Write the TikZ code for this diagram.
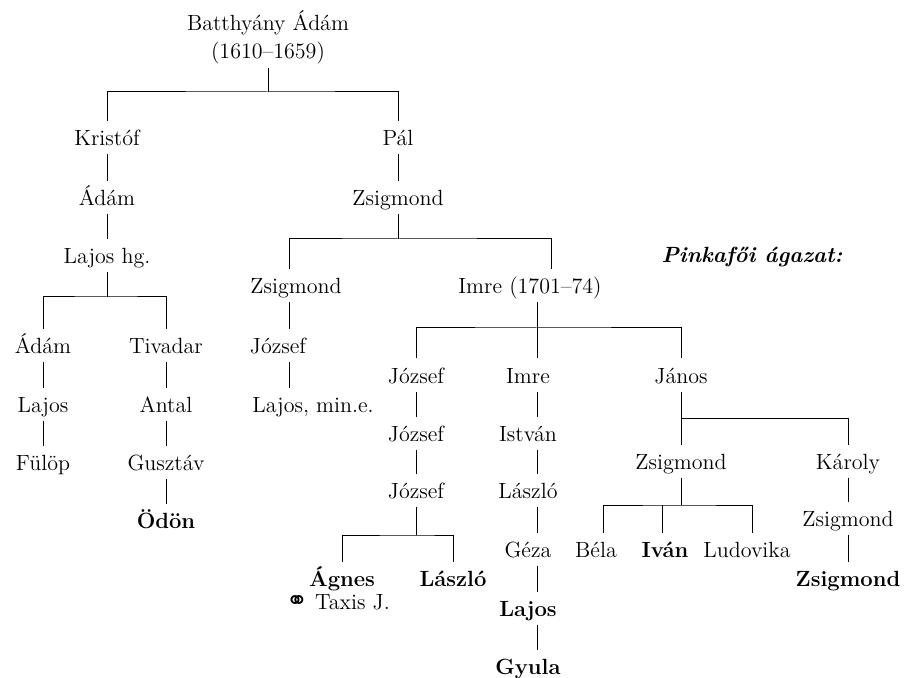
\documentclass[tikz,border=0pt]{standalone}
\usepackage{fontspec}
\newfontfamily\symfont{DejaVu Sans}

\begin{document}
\begin{tikzpicture}[x=0.5pt, y=-0.5pt, line width=0.5pt,
  nm/.style={font=\fontsize{11}{14}\selectfont, anchor=base, inner xsep=1pt, inner ysep=3.5pt, text height=8.5pt, text depth=0.5pt},
  bn/.style={nm, font=\fontsize{11}{14}\selectfont\bfseries}]
\useasboundingbox (0,0) rectangle (904,678);
\node[align=center, inner sep=2pt, font=\fontsize{11}{14}\selectfont] (root) at (268,37)
 {Batthyány Ádám\\(1610–1659)};
\foreach \n/\x/\y/\t in {kris/107/146/Kristóf, pal/398/146/Pál, adam1/107/206/Ádám, zs1/398/206/Zsigmond,
  lajhg/107/264/{Lajos hg.}, adam2/43/354/Ádám, tiv/166/354/Tivadar, lajos1/43/412/Lajos, antal/166/412/Antal,
  fulop/43/470/Fülöp, guszt/166/470/Gusztáv, zs2/296/294/Zsigmond, jo0/278/354/József, lajmin/313/412/{Lajos, min.e.},
  imre1/530/294/{Imre (1701–74)}, jo1/416/383/József, jo2/416/441/József, jo3/416/498/József,
  imre2/528/383/Imre, istvan/528/441/István, laszlo1/528/498/László, geza/528/557/Géza,
  janos/681/383/János, zs3/681/469/Zsigmond, karoly/848/469/Károly, zs4/848/526/Zsigmond,
  bela/596/557/Béla, ludov/747/557/Ludovika}
  \node[nm] (\n) at (\x,\y) {\t};
\foreach \n/\x/\y/\t in {odon/166/528/Ödön, agnes/342/586/Ágnes, laszlo2/453/586/László, lajosB/528/616/Lajos,
  gyula/528/674/Gyula, ivan/665/557/Iván, zs5/848/586/Zsigmond}
  \node[bn] (\n) at (\x,\y) {\t};
\node[nm] (taxis) at (338,609) {{\symfont\fontsize{13}{14}\selectfont ⚭} Taxis J.};
\node[nm, font=\fontsize{11}{14}\selectfont\bfseries\itshape] (pink) at (752,263) {Pinkafői ágazat:};

% junctions of the bars
\coordinate (j0) at (268,92);
\coordinate (j1) at (107,297);
\coordinate (j2) at (398,239);
\coordinate (j3) at (537,328);
\coordinate (j4) at (681,418);
\coordinate (j5) at (681,505);
\coordinate (j6) at (416,535);

% one child
\foreach \a/\b/\s in {kris/adam1/0, adam1/lajhg/0, pal/zs1/0, adam2/lajos1/0, lajos1/fulop/0, tiv/antal/0,
  antal/guszt/0, guszt/odon/0, jo1/jo2/0, jo2/jo3/0, imre2/istvan/4.5, istvan/laszlo1/4.5,
  laszlo1/geza/4.5, geza/lajosB/4.5, lajosB/gyula/4.5, janos/zs3/0, karoly/zs4/0, zs4/zs5/0}
  \draw ([xshift=\s]\a.south) -- ([xshift=\s]\a.south |- \b.north);
\draw ([xshift=-3.5]zs2.south) -- ([xshift=-3.5]zs2.south |- jo0.north);
\draw ([xshift=-3.5]zs2.south |- jo0.south) -- ([xshift=-3.5]zs2.south |- lajmin.north);

% several children
\draw (root.south) -- (j0);
\draw (kris.north) |- (j0) -| (pal.north);
\draw (lajhg.south) -- (j1);
\draw (adam2.north) |- (j1) -| (tiv.north);
\draw (zs1.south) -- (j2);
\draw ([xshift=-3.5]zs2.north) |- (j2) -| ([xshift=10.5]imre1.north);
\draw ([xshift=3.5]imre1.south) -- (j3);
\draw (jo1.north) |- (j3) -| (janos.north);
\draw (j3) -- ([xshift=4.5]imre2.north);
\draw (j4) -| (karoly.north);
\draw (zs3.south) -- (j5);
\draw ([xshift=3.5]bela.north) |- (j5) -| ([xshift=2.5]ludov.north);
\draw ([xshift=-1.5]ivan.north) -- ([xshift=-1.5]ivan.north |- j5);
\draw (jo3.south) -- (j6);
\draw (agnes.north) |- (j6) -| (laszlo2.north);
\end{tikzpicture}
\end{document}
